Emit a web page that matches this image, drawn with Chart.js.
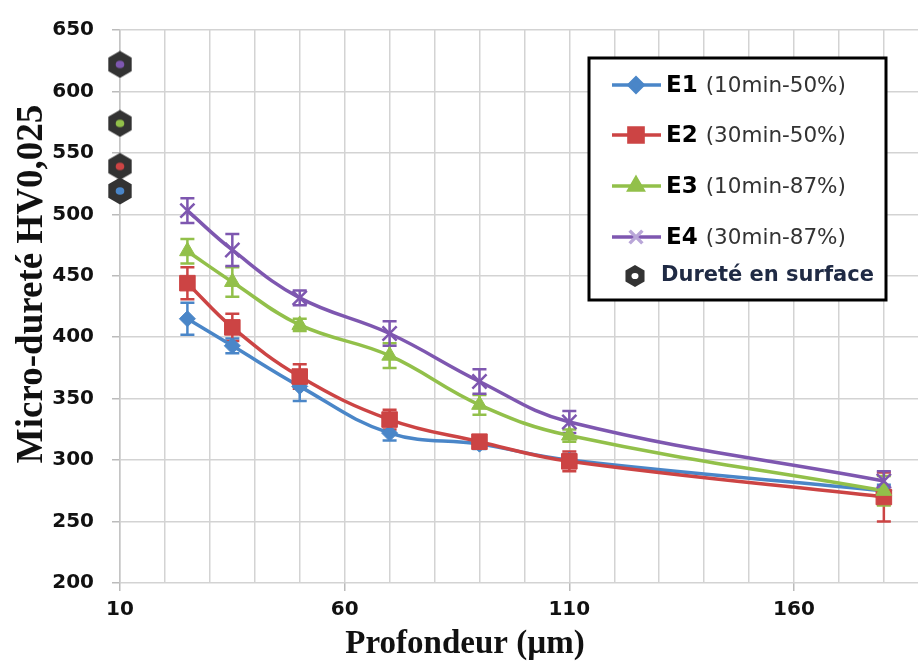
<!DOCTYPE html>
<html>
<head>
<meta charset="utf-8">
<script src="https://cdn.jsdelivr.net/npm/chart.js@4.4.0/dist/chart.umd.min.js"></script>
<style>
  html, body { margin: 0; padding: 0; background: #fff; overflow: hidden; }
  /* canvas a bit wider than the window: the plot runs off the right edge like the original crop */
  #wrap { width: 933px; height: 662px; position: relative; }
</style>
</head>
<body>
<div id="wrap"><canvas id="myChart"></canvas></div>
<script>
// depth of each indentation (µm)
const depths = [25, 35, 50, 70, 90, 110, 180];

// micro-hardness values per series
const e1 = [415, 393, 360, 322, 313, 300, 275];
const e2 = [444, 408, 368, 333, 315, 299, 270];
const e3 = [470, 445, 410, 385, 345, 320, 275];
const e4 = [503, 471, 432, 403, 364, 331, 283];

// error bar half-heights
const e1Err = [13, 6, 12, 6, 4, 5, 5];
const e2Err = [13, 11, 10, 8, 5, 8, 20];
const e3Err = [10, 12, 5, 10, 8, 5, 12];
const e4Err = [10, 13, 6, 10, 10, 9, 8];

// surface hardness (drawn at depth 10), order E4, E3, E2, E1
const surfaceDepth = 10;
const surfaceHardness = [622, 574, 539, 519];

const seriesNames = ['E1', 'E2', 'E3', 'E4'];
const seriesConditions = ['(10min-50%)', '(30min-50%)', '(10min-87%)', '(30min-87%)'];
const surfaceLabel = 'Dureté en surface';
const xTitle = 'Profondeur (µm)';
const yTitle = 'Micro-dureté HV0,025';

const xTickLabels = [10, 60, 110, 160];
const yTickLabels = [200, 250, 300, 350, 400, 450, 500, 550, 600, 650];

const colors = ['#4A86C8', '#CC4444', '#92C04A', '#7E57B0'];
const surfaceColors = [colors[3], colors[2], colors[1], colors[0]];

function hexPath(ctx, cx, cy, r) {
  ctx.beginPath();
  for (let k = 0; k < 6; k++) {
    const a = Math.PI / 6 + k * Math.PI / 3;
    const px = cx + r * Math.cos(a), py = cy + r * Math.sin(a);
    if (k === 0) ctx.moveTo(px, py); else ctx.lineTo(px, py);
  }
  ctx.closePath();
}

function hexIcon(ctx, cx, cy, r, dotColor) {
  ctx.save();
  hexPath(ctx, cx, cy, r);
  ctx.fillStyle = '#333';
  ctx.fill();
  ctx.beginPath();
  ctx.ellipse(cx, cy, r * 0.32, r * 0.28, 0, 0, Math.PI * 2);
  ctx.fillStyle = dotColor || '#fff';
  ctx.fill();
  ctx.restore();
}

function hexCanvas(color) {
  const c = document.createElement('canvas');
  c.width = 28; c.height = 28;
  hexIcon(c.getContext('2d'), 14, 14, 13.5, color);
  return c;
}

const errorBars = {
  id: 'errorBars',
  beforeDatasetsDraw(chart) {
    const { ctx, scales: { x, y } } = chart;
    chart.data.datasets.forEach(ds => {
      if (!ds.errors) return;
      ctx.save();
      ctx.strokeStyle = ds.borderColor;
      ctx.lineWidth = 2.5;
      ds.data.forEach((p, j) => {
        const px = x.getPixelForValue(p.x);
        const top = y.getPixelForValue(p.y + ds.errors[j]);
        const bot = y.getPixelForValue(p.y - ds.errors[j]);
        ctx.beginPath();
        ctx.moveTo(px, top); ctx.lineTo(px, bot);
        ctx.moveTo(px - 7, top); ctx.lineTo(px + 7, top);
        ctx.moveTo(px - 7, bot); ctx.lineTo(px + 7, bot);
        ctx.stroke();
      });
      ctx.restore();
    });
  }
};

// axis titles placed where they sit in the original figure
const axisTitles = {
  id: 'axisTitles',
  afterDraw(chart) {
    const ctx = chart.ctx;
    ctx.save();
    ctx.fillStyle = '#111';
    ctx.textAlign = 'center';
    ctx.textBaseline = 'middle';
    ctx.font = 'bold 33px "Liberation Serif"';
    ctx.fillText(xTitle, 465, 644);
    ctx.translate(32, 284);
    ctx.rotate(-Math.PI / 2);
    ctx.font = 'bold 37px "Liberation Serif"';
    ctx.fillText(yTitle, 0, 0);
    ctx.restore();
  }
};

const legendBox = {
  id: 'legendBox',
  afterDraw(chart) {
    const ctx = chart.ctx;
    const bx = 589, by = 58, bw = 297, bh = 242;
    ctx.save();
    ctx.fillStyle = '#fff';
    ctx.fillRect(bx, by, bw, bh);
    ctx.lineWidth = 3;
    ctx.strokeStyle = '#000';
    ctx.strokeRect(bx, by, bw, bh);

    const rows = [85, 135, 186, 237];
    const styles = ['rectRot', 'rect', 'triangle', 'crossRot'];
    const radii = [7, 10, 8, 9];
    rows.forEach((ry, i) => {
      ctx.strokeStyle = colors[i];
      ctx.lineWidth = 3.5;
      ctx.beginPath(); ctx.moveTo(612, ry); ctx.lineTo(661, ry); ctx.stroke();
      ctx.fillStyle = colors[i];
      ctx.strokeStyle = i === 3 ? '#B9A6D8' : colors[i];
      Chart.helpers.drawPoint(ctx, {
        pointStyle: styles[i], radius: radii[i], rotation: 0, borderWidth: i === 3 ? 1.5 : 1
      }, 636, ry);
      ctx.textBaseline = 'middle';
      ctx.textAlign = 'left';
      ctx.fillStyle = '#000';
      ctx.font = 'bold 23px "DejaVu Sans"';
      ctx.fillText(seriesNames[i], 666, ry + 1);
      const w = ctx.measureText(seriesNames[i]).width;
      ctx.fillStyle = '#333';
      ctx.font = '21.5px "DejaVu Sans"';
      ctx.fillText(seriesConditions[i], 666 + w + 8, ry + 1);
    });
    hexIcon(ctx, 635, 276, 11, '#fff');
    ctx.fillStyle = '#1F2A44';
    ctx.font = 'bold 21px "DejaVu Sans"';
    ctx.textBaseline = 'middle';
    ctx.fillText(surfaceLabel, 661, 276);
    ctx.restore();
  }
};

const whiteBg = {
  id: 'whiteBg',
  beforeDraw(chart) {
    const ctx = chart.ctx;
    ctx.save();
    ctx.fillStyle = '#fff';
    ctx.fillRect(0, 0, chart.width, chart.height);
    ctx.restore();
  }
};

function series(values, errs, i, style, radius) {
  return {
    label: seriesNames[i] + ' ' + seriesConditions[i],
    data: depths.map((d, j) => ({ x: d, y: values[j] })),
    errors: errs,
    borderColor: colors[i],
    backgroundColor: colors[i],
    pointBackgroundColor: colors[i],
    pointBorderColor: colors[i],
    pointStyle: style,
    pointRadius: radius,
    pointBorderWidth: i === 3 ? 2.5 : 1,
    borderWidth: 3.5,
    tension: 0.4,
    order: 4 - i
  };
}

const myChart = document.getElementById('myChart');

new Chart(myChart, {
  type: 'line',
  data: {
    datasets: [
      series(e1, e1Err, 0, 'rectRot', 8),
      series(e2, e2Err, 1, 'rect', 11),
      series(e3, e3Err, 2, 'triangle', 9),
      series(e4, e4Err, 3, 'crossRot', 10),
      {
        label: surfaceLabel,
        data: surfaceHardness.map(v => ({ x: surfaceDepth, y: v })),
        showLine: false,
        pointStyle: surfaceColors.map(c => hexCanvas(c)),
        pointRadius: 14,
        clip: false,
        order: 0
      }
    ]
  },
  plugins: [whiteBg, errorBars, legendBox, axisTitles],
  options: {
    responsive: true,
    maintainAspectRatio: false,
    animation: false,
    layout: { padding: { top: 20, right: 0, left: 0, bottom: 0 } },
    plugins: { legend: { display: false }, tooltip: { enabled: false } },
    scales: {
      x: {
        type: 'linear',
        min: 10,
        max: 187.6,
        afterFit(scale) { scale.height = 79; },
        afterBuildTicks(scale) {
          const t = [];
          for (let v = 10; v <= 180; v += 10) t.push({ value: v });
          scale.ticks = t;
        },
        ticks: {
          callback: v => xTickLabels.includes(v) ? String(v) : '',
          autoSkip: false,
          maxRotation: 0,
          padding: 7,
          color: '#111',
          font: { family: '"DejaVu Sans"', weight: 'bold', size: 20 }
        },
        grid: {
          color: '#d3d3d3',
          lineWidth: 1.5,
          tickLength: 8,
          tickColor: c => xTickLabels.includes(c.tick && c.tick.value) ? '#bbb' : 'rgba(0,0,0,0)'
        },
        border: { display: false }
      },
      y: {
        min: 200,
        max: 650,
        afterFit(scale) { scale.width = 120; },
        afterBuildTicks(scale) { scale.ticks = yTickLabels.map(v => ({ value: v })); },
        ticks: {
          padding: 18,
          color: '#111',
          font: { family: '"DejaVu Sans"', weight: 'bold', size: 20 }
        },
        grid: { color: '#d3d3d3', lineWidth: 1.5, tickLength: 8, tickColor: '#bbb' },
        border: { color: '#c4c4c4', width: 1.5 }
      }
    }
  }
});
</script>
</body>
</html>
